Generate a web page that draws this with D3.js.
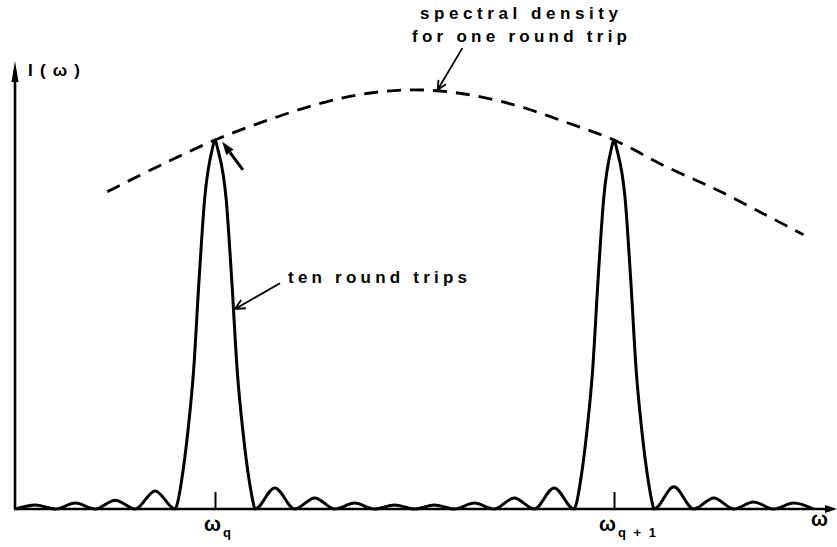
<!DOCTYPE html>
<html>
<head>
<meta charset="utf-8">
<script src="https://cdn.jsdelivr.net/npm/d3@7"></script>
<style>
  html, body { margin: 0; padding: 0; background: #fff; }
  text { font-family: "Liberation Sans", Arial, sans-serif; font-weight: bold; fill: #000; }
</style>
</head>
<body>
<div id="chart"></div>
<script>
// frequency in units of the mode spacing (omega_q = 0, omega_q+1 = 1), intensity relative to peak
const tickValues = [0, 1];
const tickLabels = [["ω", "q"], ["ω", "q + 1"]];

// ten round trips
const tenW = [-0.50, -0.45, -0.40, -0.35, -0.30, -0.25, -0.20, -0.15, -0.10,
  -0.094, -0.084, -0.068, -0.054, -0.040, -0.026, -0.007, 0, 0.007, 0.028, 0.042, 0.056, 0.070, 0.086, 0.096, 0.10,
  0.15, 0.20, 0.25, 0.30, 0.35, 0.40, 0.45, 0.50, 0.55, 0.60, 0.65, 0.70, 0.75, 0.80, 0.85, 0.90,
  0.906, 0.916, 0.932, 0.946, 0.960, 0.974, 0.993, 1.0, 1.007, 1.028, 1.042, 1.056, 1.070, 1.086, 1.096, 1.10,
  1.15, 1.20, 1.25, 1.30, 1.35, 1.40, 1.45, 1.50];
const tenI = [0, 0.011, 0, 0.016, 0, 0.024, 0, 0.049, 0,
  0.016, 0.075, 0.21, 0.37, 0.62, 0.84, 0.975, 1.0, 0.975, 0.84, 0.62, 0.37, 0.21, 0.075, 0.016, 0,
  0.057, 0, 0.03, 0, 0.016, 0, 0.011, 0, 0.011, 0, 0.016, 0, 0.03, 0, 0.057, 0,
  0.016, 0.075, 0.21, 0.37, 0.62, 0.84, 0.975, 1.0, 0.975, 0.84, 0.62, 0.37, 0.21, 0.075, 0.016, 0,
  0.06, 0, 0.03, 0, 0.019, 0, 0.016, 0];

// spectral density for one round trip (dashed)
const envW = [-0.27, -0.13, 0, 0.13, 0.26, 0.38, 0.50, 0.63, 0.76, 0.88, 1.0, 1.13, 1.26, 1.38, 1.475];
const envI = [0.86, 0.935, 1.0, 1.053, 1.098, 1.126, 1.136, 1.124, 1.092, 1.048, 1.0, 0.928, 0.864, 0.797, 0.743];

const width = 837, height = 547;
const originX = 15, baseY = 509;

const svg = d3.select("#chart")
  .append("svg")
  .attr("width", width)
  .attr("height", height);

svg.append("rect").attr("width", width).attr("height", height).attr("fill", "#fff");

const x = d3.scaleLinear().domain([0, 1]).range([215, 614]);
const y = d3.scaleLinear().domain([0, 1]).range([baseY, 140]);

//axes
svg.append("line")
  .attr("x1", originX).attr("y1", baseY)
  .attr("x2", originX).attr("y2", 70)
  .attr("stroke", "#000").attr("stroke-width", 2.6);
svg.append("path")
  .attr("d", `M${originX},61 L${originX - 3.5},82 L${originX + 3.5},82 Z`)
  .attr("fill", "#000");

svg.append("line")
  .attr("x1", originX - 1).attr("y1", baseY)
  .attr("x2", 828).attr("y2", baseY)
  .attr("stroke", "#000").attr("stroke-width", 2.6);
svg.append("path")
  .attr("d", `M837,${baseY} L825,${baseY - 4} L825,${baseY + 4} Z`)
  .attr("fill", "#000");

//ticks pointing up
const xAxis = svg.append("g")
  .attr("transform", `translate(0,${baseY})`)
  .call(d3.axisBottom(x).tickValues(tickValues).tickSize(-17).tickFormat(""));
xAxis.select(".domain").remove();
xAxis.selectAll(".tick line").attr("stroke", "#000").attr("stroke-width", 2);

//tick labels with subscripts
tickValues.forEach((t, i) => {
  const lab = svg.append("text")
    .attr("x", x(t) - (i === 0 ? 11 : 15))
    .attr("y", 531)
    .style("font-size", "20px");
  lab.append("tspan").text(tickLabels[i][0]);
  lab.append("tspan")
    .attr("dy", 6)
    .style("font-size", "13px")
    .attr("dx", 2)
    .style("letter-spacing", "2px")
    .text(tickLabels[i][1]);
});

svg.append("text")
  .attr("x", 811).attr("y", 526)
  .style("font-size", "20px")
  .text("ω");

svg.append("text")
  .attr("x", 28).attr("y", 76)
  .style("font-size", "17px")
  .attr("textLength", 52)
  .attr("lengthAdjust", "spacing")
  .text("I(ω)");

//curves
const line = d3.line()
  .x(d => x(d[0]))
  .y(d => y(d[1]))
  .curve(d3.curveMonotoneX);

svg.append("path")
  .datum(tenW.map((w, i) => [w, tenI[i]]))
  .attr("d", line)
  .attr("fill", "none")
  .attr("stroke", "#000")
  .attr("stroke-width", 3)
  .attr("stroke-linejoin", "round");

svg.append("path")
  .datum(envW.map((w, i) => [w, envI[i]]))
  .attr("d", line.curve(d3.curveCatmullRom))
  .attr("fill", "none")
  .attr("stroke", "#000")
  .attr("stroke-width", 2.8)
  .attr("stroke-dasharray", "14,9");

//annotations
function openArrow(from, to, barb) {
  const x1 = x(from[0]), y1 = y(from[1]), x2 = x(to[0]), y2 = y(to[1]);
  const a = Math.atan2(y2 - y1, x2 - x1);
  const p = (s) => [x2 - barb * Math.cos(a + s), y2 - barb * Math.sin(a + s)];
  const l = p(0.45), r = p(-0.45);
  svg.append("path")
    .attr("d", `M${x1},${y1} L${x2},${y2} M${l[0]},${l[1]} L${x2},${y2} L${r[0]},${r[1]}`)
    .attr("fill", "none")
    .attr("stroke", "#000")
    .attr("stroke-width", 1.8);
}

openArrow([0.62, 1.249], [0.558, 1.136], 10);
openArrow([0.163, 0.612], [0.05, 0.542], 11);

//bold arrow at first peak
{
  const x1 = x(0.07), y1 = y(0.919), x2 = x(0.018), y2 = y(0.995);
  const a = Math.atan2(y2 - y1, x2 - x1);
  const hl = 13, hw = 4.5;
  const bx = x2 - hl * Math.cos(a), by = y2 - hl * Math.sin(a);
  svg.append("line")
    .attr("x1", x1).attr("y1", y1).attr("x2", bx).attr("y2", by)
    .attr("stroke", "#000").attr("stroke-width", 3);
  svg.append("path")
    .attr("d", `M${x2},${y2} L${bx + hw * Math.sin(a)},${by - hw * Math.cos(a)} L${bx - hw * Math.sin(a)},${by + hw * Math.cos(a)} Z`)
    .attr("fill", "#000");
}

//texts
svg.append("text")
  .attr("x", 420).attr("y", 19)
  .style("font-size", "17px")
  .attr("textLength", 198)
  .attr("lengthAdjust", "spacing")
  .text("spectral density");

svg.append("text")
  .attr("x", 412).attr("y", 42)
  .style("font-size", "17px")
  .attr("textLength", 215)
  .attr("lengthAdjust", "spacing")
  .text("for one round trip");

svg.append("text")
  .attr("x", 288).attr("y", 283)
  .style("font-size", "17px")
  .attr("textLength", 179)
  .attr("lengthAdjust", "spacing")
  .text("ten round trips");
</script>
</body>
</html>
